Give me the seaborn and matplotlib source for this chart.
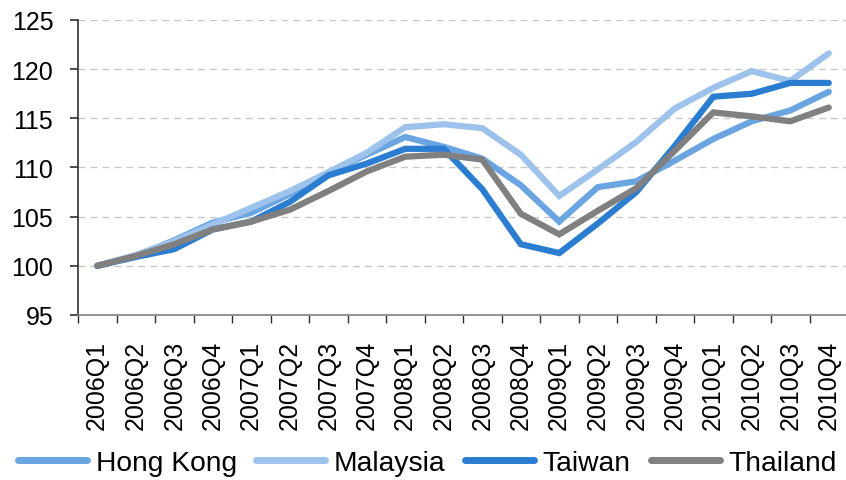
import matplotlib
matplotlib.use("Agg")
import matplotlib.pyplot as plt
import seaborn as sns
import pandas as pd
import numpy as np

quarters = [f"{y}Q{q}" for y in range(2006, 2011) for q in range(1, 5)]

hong_kong = [100.0, 101.0, 102.6, 104.4, 105.4, 107.3, 109.5, 111.3, 113.1, 112.1,
             110.9, 108.2, 104.5, 108.0, 108.6, 110.7, 112.9, 114.7, 115.8, 117.7]
malaysia = [100.0, 101.1, 102.5, 104.2, 105.9, 107.6, 109.5, 111.5, 114.1, 114.4,
            114.0, 111.3, 107.1, 109.8, 112.6, 116.0, 118.1, 119.8, 118.8, 121.6]
taiwan = [100.0, 100.9, 101.7, 103.7, 104.5, 106.5, 109.2, 110.4, 111.9, 111.9,
          107.8, 102.2, 101.3, 104.3, 107.5, 112.2, 117.2, 117.5, 118.6, 118.6]
thailand = [100.0, 101.0, 102.2, 103.7, 104.5, 105.7, 107.6, 109.6, 111.1, 111.3,
            110.8, 105.3, 103.2, 105.6, 107.9, 111.7, 115.6, 115.2, 114.7, 116.1]

series = {"Hong Kong": hong_kong, "Malaysia": malaysia, "Taiwan": taiwan, "Thailand": thailand}
colors = {"Hong Kong": "#6AA5E2", "Malaysia": "#9DC3EC", "Taiwan": "#2B7DD2", "Thailand": "#808080"}

y_ticks = [95, 100, 105, 110, 115, 120, 125]

df = pd.DataFrame(
    [(i, name, v) for name, vals in series.items() for i, v in enumerate(vals)],
    columns=["idx", "country", "value"],
)

sns.set_style("white")
plt.rcParams["font.family"] = ["Liberation Sans", "DejaVu Sans"]
plt.rcParams["text.color"] = "black"
plt.rcParams["xtick.color"] = "black"
plt.rcParams["ytick.color"] = "black"

fig = plt.figure(figsize=(8.46, 4.81), dpi=100)
ax = fig.add_axes([78 / 846, 1 - 316 / 481, 770 / 846, 295 / 481])

sns.lineplot(data=df, x="idx", y="value", hue="country", palette=colors,
             hue_order=list(series.keys()), linewidth=4.5, ax=ax, legend=False,
             solid_capstyle="round", solid_joinstyle="miter")

ax.set_xlim(-0.5, len(quarters) - 0.5)
ax.set_ylim(95, 125)
ax.set_yticks(y_ticks)
ax.set_yticklabels([str(t) for t in y_ticks])
ax.set_xticks(np.arange(len(quarters)))
ax.set_xticklabels(quarters, rotation=90)
ax.set_xticks(np.arange(-0.5, len(quarters)), minor=True)
ax.set_xlabel("")
ax.set_ylabel("")

for t in y_ticks[1:]:
    ax.axhline(t, color="#C8C8C8", linewidth=1.0, linestyle=(0, (5, 3.6)), zorder=0)

for side in ["top", "right"]:
    ax.spines[side].set_visible(False)
ax.spines["left"].set_color("#303030")
ax.spines["left"].set_linewidth(1.2)
ax.spines["bottom"].set_color("#7F7F7F")
ax.spines["bottom"].set_linewidth(1.2)

ax.tick_params(axis="y", which="major", direction="out", length=5.8, width=1.2,
               color="#303030", labelcolor="black", pad=12, labelsize=18, left=True)
ax.tick_params(axis="x", which="major", length=0, pad=18, labelsize=18,
               labelcolor="black", bottom=True)
ax.tick_params(axis="x", which="minor", direction="out", length=5.8, width=1.0,
               color="#303030", bottom=True)

handles = [plt.Line2D([0], [0], color=colors[n], linewidth=5, solid_capstyle="round")
           for n in series]
leg = fig.legend(handles, list(series.keys()), loc="center left", ncol=4,
                 bbox_to_anchor=(18 / 846, 1 - 464 / 481), frameon=False, fontsize=20.3,
                 handlelength=2.45, handletextpad=0.3, columnspacing=0.7,
                 borderaxespad=0, borderpad=0)
for txt in leg.get_texts():
    txt.set_color("black")

fig.savefig("out.png", dpi=100)
